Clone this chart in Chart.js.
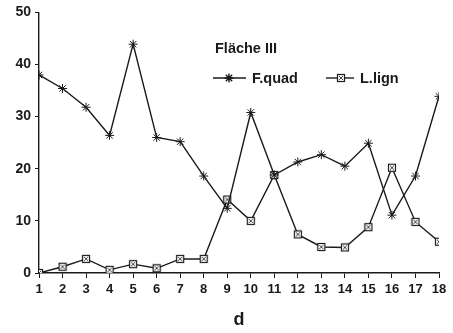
<!DOCTYPE html>
<html>
<head>
  <meta charset="utf-8">
  <title>Fläche III</title>
  <style>
    body { margin: 0; background: #fff; }
    #wrap { width: 453px; height: 333px; }
  </style>
  <script src="https://cdn.jsdelivr.net/npm/chart.js"></script>
</head>
<body>
  <div id="wrap"><canvas id="c" width="453" height="333"></canvas></div>
  <script>
    // data
    const days = [1, 2, 3, 4, 5, 6, 7, 8, 9, 10, 11, 12, 13, 14, 15, 16, 17, 18];
    const fQuad = [38, 35.4, 31.8, 26.4, 43.9, 26, 25.2, 18.6, 12.4, 30.8, 18.8, 21.3, 22.7, 20.5, 24.9, 11.1, 18.6, 33.9];
    const lLign = [0, 1.2, 2.7, 0.6, 1.7, 0.9, 2.7, 2.7, 14.1, 10, 18.8, 7.4, 5, 4.9, 8.8, 20.2, 9.8, 6];
    const yTicks = [0, 10, 20, 30, 40, 50];
    const panelTitle = 'Fläche III';
    const seriesNames = ['F.quad', 'L.lign'];
    const xTitle = 'd';

    const ink = '#1a1a1a';
    const font = 'Liberation Sans, Arial, sans-serif';

    // square marker with a small cross inside
    function boxMarker() {
      let cv = document.createElement('canvas');
      cv.width = 10; cv.height = 10;
      let g = cv.getContext('2d');
      g.fillStyle = '#fff';
      g.fillRect(1, 1, 8, 8);
      g.strokeStyle = ink;
      g.lineWidth = 1.2;
      g.strokeRect(1.5, 1.5, 7, 7);
      g.lineWidth = 0.8;
      g.beginPath();
      g.moveTo(3, 3); g.lineTo(7, 7);
      g.moveTo(7, 3); g.lineTo(3, 7);
      g.stroke();
      return cv;
    }
    const box = boxMarker();

    const legendPlugin = {
      id: 'panelLegend',
      afterDraw(chart) {
        let ctx = chart.ctx;
        ctx.save();
        ctx.fillStyle = ink;
        ctx.strokeStyle = ink;
        ctx.textBaseline = 'middle';
        ctx.font = 'bold 14.5px ' + font;
        ctx.fillText(panelTitle, 215, 49);

        // F.quad entry
        ctx.lineWidth = 1.4;
        ctx.beginPath(); ctx.moveTo(213, 78); ctx.lineTo(246, 78); ctx.stroke();
        Chart.helpers.drawPoint(ctx, { pointStyle: 'star', radius: 4.5, borderWidth: 1 }, 229, 78);
        ctx.fillText(seriesNames[0], 252, 79);

        // L.lign entry
        ctx.beginPath(); ctx.moveTo(326, 78); ctx.lineTo(354, 78); ctx.stroke();
        ctx.drawImage(box, 336, 73);
        ctx.fillText(seriesNames[1], 360, 79);
        ctx.restore();
      }
    };

    new Chart(document.getElementById('c'), {
      type: 'line',
      data: {
        datasets: [
          {
            label: seriesNames[0],
            data: days.map((d, i) => ({ x: d, y: fQuad[i] })),
            borderColor: ink,
            backgroundColor: ink,
            borderWidth: 1.4,
            pointStyle: 'star',
            pointRadius: 4.5,
            pointBorderWidth: 1,
            tension: 0
          },
          {
            label: seriesNames[1],
            data: days.map((d, i) => ({ x: d, y: lLign[i] })),
            borderColor: ink,
            backgroundColor: '#fff',
            borderWidth: 1.4,
            pointStyle: box,
            tension: 0
          }
        ]
      },
      options: {
        responsive: false,
        animation: false,
        layout: { padding: { left: 0, right: 14, top: 12, bottom: 0 } },
        plugins: {
          legend: { display: false },
          tooltip: { enabled: false }
        },
        scales: {
          x: {
            type: 'linear',
            min: 1, max: 18,
            afterFit: s => { s.height = 60; },
            afterBuildTicks: s => { s.ticks = days.map(v => ({ value: v })); },
            grid: { drawOnChartArea: false, tickLength: 5, color: ink },
            border: { color: ink, width: 1.4 },
            ticks: { color: ink, font: { family: font, size: 13, weight: 'bold' }, padding: 4, maxRotation: 0 },
            title: { display: true, text: xTitle, color: ink, font: { family: font, size: 18, weight: 'bold' }, padding: { top: 0, bottom: 2 } }
          },
          y: {
            min: 0, max: 50,
            afterFit: s => { s.width = 39; },
            afterBuildTicks: s => { s.ticks = yTicks.map(v => ({ value: v })); },
            grid: { drawOnChartArea: false, tickLength: 4, color: ink },
            border: { color: ink, width: 1.4 },
            ticks: { color: ink, font: { family: font, size: 14, weight: 'bold' }, padding: 4 }
          }
        }
      },
      plugins: [legendPlugin]
    });
  </script>
</body>
</html>
